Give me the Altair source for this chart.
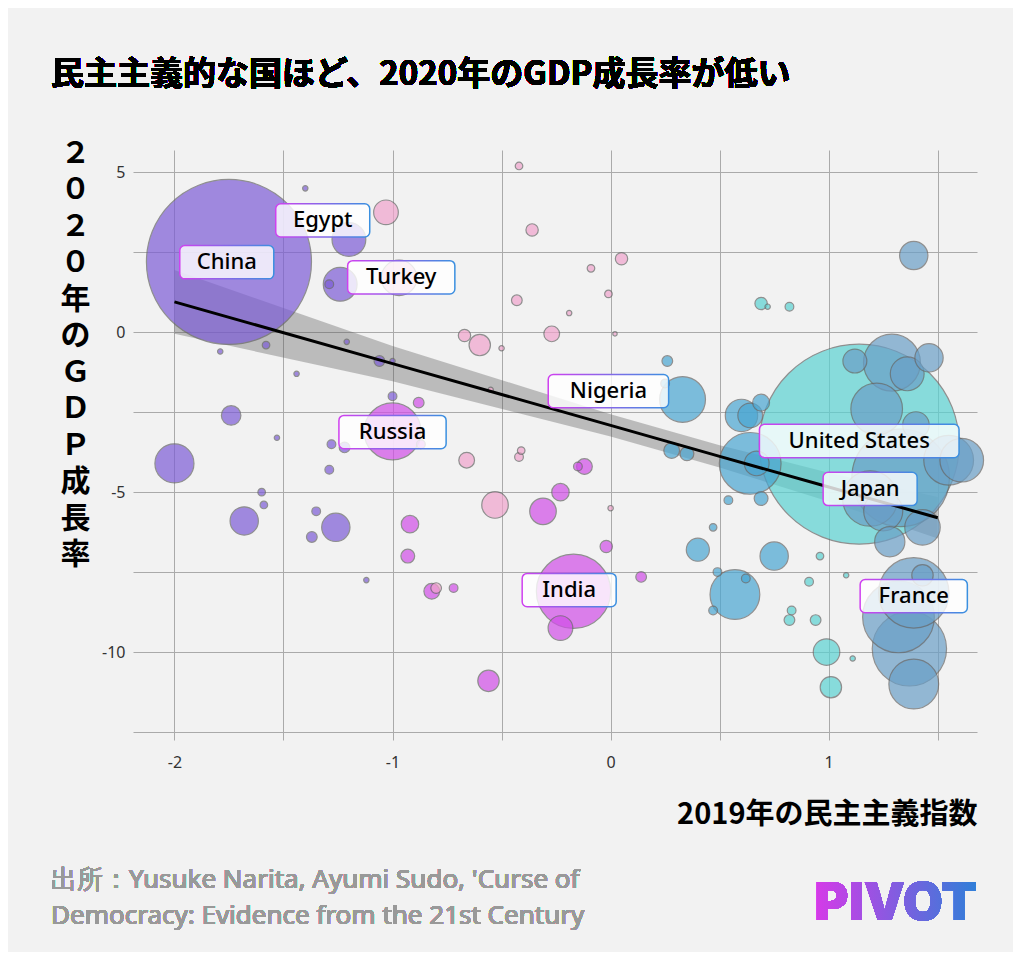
import altair as alt
import pandas as pd

# democracy index (x), 2020 GDP growth % (y), GDP in trillion USD (bubble), colour group
dem = [-1.75, -2.0, -1.68, -1.74, -1.26, -1.24, -1.2, -1.29, -1.4, -1.58, -1.79, -1.44, -1.53, -1.6, -1.59,
       -1.35, -1.37, -1.28, -1.29, -1.21, -1.12, -1.06, -1.0, -1.0, -1.22,
       -1.0, -0.92, -0.93, -0.82, -0.88, -0.87, -0.72, -0.56, -0.23, -0.17, -0.31, -0.23, -0.12, -0.02, 0.14, -0.15,
       -1.03, -0.97, -0.36, -0.42, -0.67, -0.6, -0.43, -0.27, 0.05, -0.09, -0.01, -0.19, -0.5, -0.66, -0.53, -0.42, -0.41, 0.02, 0.0, -0.55, -0.8,
       0.33, 0.26, 0.25, 0.28, 0.35, 0.6, 0.64, 0.54, 0.47, 0.4, 0.49, 0.57, 0.47, 0.75, 0.62, 0.69, 0.64, 0.67, 0.69,
       1.14, 0.69, 0.72, 0.82, 0.99, 1.01, 0.94, 0.82, 0.83, 0.91, 0.96, 1.08, 1.11,
       1.39, 1.29, 1.46, 1.22, 1.4, 1.61, 1.33, 1.43, 1.28, 1.39, 1.32, 1.37, 1.39, 1.43, 1.19, 1.36, 1.55, 1.12, 1.25]
growth = [2.2, -4.1, -5.9, -2.6, -6.1, 1.5, 2.9, 1.5, 4.5, -0.4, -0.6, -1.3, -3.3, -5.0, -5.4,
          -5.6, -6.4, -3.5, -4.3, -0.3, -7.75, -0.9, -2.0, -0.9, -3.6,
          -3.1, -6.0, -7.0, -8.1, -2.2, -3.5, -8.0, -10.9, -9.25, -8.1, -5.6, -5.0, -4.2, -6.7, -7.65, -4.2,
          3.75, 1.7, 3.2, 5.2, -0.1, -0.4, 1.0, -0.05, 2.3, 2.0, 1.2, 0.6, -0.5, -4.0, -5.4, -3.9, -3.7, -0.05, -5.5, -1.8, -8.0,
          -2.1, -0.9, -1.6, -3.7, -3.8, -2.6, -2.6, -5.25, -6.1, -6.8, -7.5, -8.2, -8.7, -7.0, -7.7, -5.2, -4.1, -4.1, -2.2,
          -3.5, 0.9, 0.8, 0.8, -10.0, -11.1, -9.0, -9.0, -8.7, -7.8, -7.0, -7.6, -10.2,
          2.4, -0.95, -0.8, -2.4, -2.9, -4.0, -4.55, -6.1, -6.55, -8.15, -8.9, -9.9, -11.0, -7.6, -5.2, -1.3, -4.0, -0.9, -5.6]
gdp = [14.3, 0.8, 0.42, 0.2, 0.42, 0.6, 0.6, 0.04, 0.015, 0.03, 0.015, 0.015, 0.015, 0.03, 0.03,
       0.04, 0.06, 0.04, 0.04, 0.015, 0.015, 0.06, 0.04, 0.015, 0.06,
       1.7, 0.16, 0.1, 0.13, 0.06, 0.04, 0.04, 0.24, 0.32, 2.9, 0.37, 0.16, 0.13, 0.08, 0.06, 0.04,
       0.32, 0.66, 0.08, 0.03, 0.08, 0.24, 0.06, 0.13, 0.08, 0.03, 0.03, 0.015, 0.015, 0.13, 0.37, 0.04, 0.03, 0.01, 0.015, 0.015, 0.06,
       1.1, 0.06, 0.04, 0.13, 0.1, 0.55, 0.32, 0.04, 0.03, 0.28, 0.04, 1.3, 0.04, 0.42, 0.04, 0.1, 2.0, 0.32, 0.15,
       21.0, 0.08, 0.015, 0.04, 0.37, 0.24, 0.06, 0.06, 0.04, 0.04, 0.03, 0.015, 0.015,
       0.42, 1.7, 0.42, 1.4, 0.37, 1.0, 5.0, 0.66, 0.48, 2.6, 2.7, 2.9, 1.3, 0.24, 1.6, 0.6, 1.3, 0.3, 0.8]
grp = (["purple"] * 25 + ["magenta"] * 16 + ["pink"] * 21 + ["blue"] * 19 + ["teal"] * 13 + ["steel"] * 19)

# fitted line and confidence band
fit_x = [-2.0, -1.0, 0.0, 0.5, 1.0, 1.5]
fit_y = [0.95, -0.98, -2.91, -3.88, -4.84, -5.8]
fit_lo = [-0.05, -1.53, -3.26, -4.23, -5.29, -6.45]
fit_hi = [1.95, -0.43, -2.56, -3.53, -4.39, -5.15]

# labelled countries
lab_text = ["China", "Egypt", "Turkey", "Russia", "Nigeria", "United States", "Japan", "France", "India"]
lab_x = [-1.76, -1.32, -0.96, -1.0, -0.01, 1.14, 1.19, 1.39, -0.19]
lab_y = [2.19, 3.5, 1.72, -3.12, -1.84, -3.4, -4.9, -8.25, -8.06]

W, H = 844, 582
XD, YD = [-2.19, 1.68], [-12.5, 5.7]

pts = pd.DataFrame({"x": dem, "y": growth, "gdp": gdp, "g": grp})
fit = pd.DataFrame({"x": fit_x, "y": fit_y, "lo": fit_lo, "hi": fit_hi})
lab = pd.DataFrame({"t": lab_text, "x": lab_x, "y": lab_y})
half_w = lab["t"].str.len() * 6.6 + 14
lab["x1"] = lab["x"] - half_w / (W / (XD[1] - XD[0]))
lab["x2"] = lab["x"] + half_w / (W / (XD[1] - XD[0]))
lab["y1"] = lab["y"] - 0.52
lab["y2"] = lab["y"] + 0.52

xs = alt.Scale(domain=XD, nice=False, zero=False)
ys = alt.Scale(domain=YD, nice=False, zero=False)
xax = alt.Axis(values=[-2, -1.5, -1, -0.5, 0, 0.5, 1, 1.5], labelExpr="datum.value % 1 == 0 ? '' + datum.value : ''",
               title="2019年の民主主義指数", titleAnchor="end", titleAlign="right", titleFontSize=29,
               titleFont="Noto Sans CJK JP", titleFontWeight="bold", titlePadding=30, titleColor="#000",
               labelFontSize=16, labelFont="Noto Sans", labelColor="#333", labelPadding=14, tickSize=8,
               tickColor="#aaa", domain=False, gridColor="#aaa")
yax = alt.Axis(values=[-12.5, -10, -7.5, -5, -2.5, 0, 2.5, 5], labelExpr="datum.value % 5 == 0 ? '' + datum.value : ''",
               title=list("２０２０年のＧＤＰ成長率"), titleAngle=0, titleFontSize=30, titleLineHeight=36.5,
               titleFont="Noto Sans CJK JP", titleFontWeight="bold", titleColor="#000", titleX=-58, titleY=-12,
               titleBaseline="top", labelFontSize=16, labelFont="Noto Sans", labelColor="#333", labelPadding=8,
               ticks=False, domain=False, gridColor="#aaa")

base = alt.Chart(pts)
bubbles = base.mark_circle(opacity=0.7, stroke="#666", strokeWidth=1.2).encode(
    x=alt.X("x:Q", scale=xs, axis=xax),
    y=alt.Y("y:Q", scale=ys, axis=yax),
    size=alt.Size("gdp:Q", scale=alt.Scale(domain=[0, 21], range=[0, 40000]), legend=None),
    color=alt.Color("g:N", scale=alt.Scale(domain=["purple", "magenta", "pink", "blue", "teal", "steel"],
                                           range=["#7c5cd6", "#d14ee8", "#f0a3cc", "#4aa6d2", "#5ad2d2", "#6a9fc7"]),
                    legend=None),
    order=alt.Order("gdp:Q", sort="descending"),
)
band = alt.Chart(fit).mark_area(color="#555", opacity=0.35).encode(x="x:Q", y="lo:Q", y2="hi:Q")
line = alt.Chart(fit).mark_line(color="#000", strokeWidth=3).encode(x="x:Q", y="y:Q")

grad = alt.LinearGradient(gradient="linear", stops=[alt.GradientStop(color="#d040f0", offset=0),
                                                    alt.GradientStop(color="#3a90e0", offset=1)],
                          x1=0, x2=1, y1=0, y2=0)
boxes = alt.Chart(lab).mark_rect(fill="#ffffff", fillOpacity=0.8, stroke=grad, strokeWidth=1.5,
                                 cornerRadius=5).encode(x="x1:Q", x2="x2:Q", y="y1:Q", y2="y2:Q")
texts = alt.Chart(lab).mark_text(fontSize=22, font="Noto Sans", fontWeight=500, color="#000",
                                 baseline="middle").encode(x="x:Q", y="y:Q", text="t:N")

title = alt.Chart(pts).mark_text(text="民主主義的な国ほど、2020年のGDP成長率が低い", font="Noto Sans CJK JP",
                                 fontSize=33, fontWeight="bold", align="left", baseline="middle", color="#000").encode(
    x=alt.value(-82), y=alt.value(-75))
src1 = alt.Chart(pts).mark_text(text="出所：Yusuke Narita, Ayumi Sudo, 'Curse of", font="Noto Sans",
                                fontSize=26, fontWeight=400, align="left", baseline="middle", color="#999").encode(
    x=alt.value(-82), y=alt.value(730))
src2 = alt.Chart(pts).mark_text(text="Democracy: Evidence from the 21st Century", font="Noto Sans",
                                fontSize=26, fontWeight=400, align="left", baseline="middle", color="#999").encode(
    x=alt.value(-82), y=alt.value(766))
lgrad = alt.LinearGradient(gradient="linear", stops=[alt.GradientStop(color="#d63ae8", offset=0),
                                                     alt.GradientStop(color="#2f7fd8", offset=1)],
                           x1=0, x2=1, y1=0, y2=0)
logo = alt.Chart(pts).mark_text(text="PIVOT", font="Inter", fontSize=52, fontWeight=900, align="right",
                                baseline="middle", fill=lgrad).encode(x=alt.value(844), y=alt.value(754))

chart = (band + bubbles + line + boxes + texts + title + src1 + src2 + logo).properties(
    width=W, height=H, background="#f2f2f2",
    autosize=alt.AutoSizeParams(type="none"),
    padding={"left": 125, "top": 142, "right": 36, "bottom": 220},
).configure_view(stroke=None)

chart.save("out.html", embed_options={"renderer": "svg", "actions": False})
